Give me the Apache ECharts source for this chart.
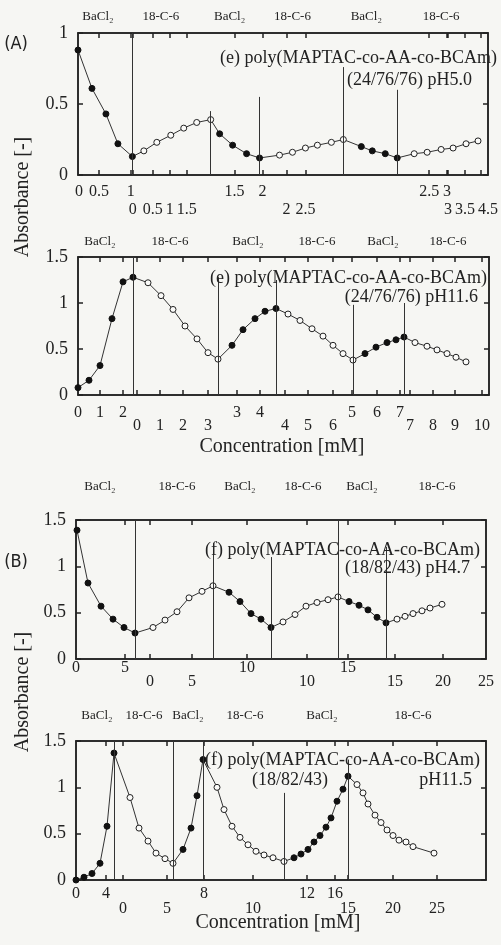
<!DOCTYPE html>
<html>
<head>
<meta charset="utf-8">
<script src="https://cdn.jsdelivr.net/npm/echarts@6/dist/echarts.min.js"></script>
<style>
html,body{margin:0;padding:0;background:#f6f6f3;}
#main_chart{width:501px;height:945px;}
</style>
</head>
<body>
<div id="main_chart"></div>
<script>
// x = position along the titration (cumulative addition, arbitrary unit), y = absorbance
// segments alternate: BaCl2 added (filled) / 18-C-6 added (open)

// (A) upper : (e) 24/76/76 pH5.0
var a1X = [0.0, 1.4, 2.8, 4.0, 5.45, 6.6, 7.9, 9.3, 10.6, 11.9, 13.3, 14.2, 15.5, 16.9, 18.2,
           20.2, 21.5, 22.8, 24.0, 25.4, 26.6, 28.4, 29.5, 30.8, 32.0, 33.7, 35.0, 36.4, 37.6, 38.9, 40.1];
var a1Y = [0.88, 0.61, 0.43, 0.22, 0.13, 0.17, 0.23, 0.28, 0.33, 0.37, 0.39, 0.29, 0.21, 0.15, 0.12,
           0.14, 0.16, 0.19, 0.21, 0.23, 0.25, 0.20, 0.17, 0.15, 0.12, 0.15, 0.16, 0.18, 0.19, 0.22, 0.24];
var a1Seg = [5, 6, 4, 6, 4, 6];
var a1Div = [5.45, 13.3, 18.2, 26.6, 32.0];
var a1DivTop = [1.0, 0.45, 0.55, 0.76, 0.6];
var a1TopPos = [2.0, 8.3, 15.2, 21.5, 28.9, 36.4];
var a1Row1Pos = [0.1, 2.1, 5.3, 15.7, 18.5, 35.2, 37.0];
var a1Row1Txt = ['0', '0.5', '1', '1.5', '2', '2.5', '3'];
var a1Row2Pos = [5.5, 7.5, 9.2, 10.9, 20.9, 22.8, 37.1, 38.8, 40.4, 41.1];
var a1Row2Txt = ['0', '0.5', '1', '1.5', '2', '2.5', '3', '3.5', '4', '4.5'];

// (A) lower : (e) 24/76/76 pH11.6
var a2X = [0.0, 1.1, 2.2, 3.4, 4.5, 5.5, 7.0, 8.3, 9.5, 10.7, 11.9, 13.0, 14.0,
           15.4, 16.5, 17.7, 18.7, 19.8, 21.0, 22.2, 23.4, 24.5, 25.5, 26.5, 27.5,
           28.7, 29.8, 30.9, 31.8, 32.6, 33.7, 34.9, 35.9, 36.9, 37.8, 38.8];
var a2Y = [0.08, 0.16, 0.32, 0.83, 1.23, 1.28, 1.22, 1.08, 0.93, 0.75, 0.61, 0.46, 0.39,
           0.54, 0.71, 0.83, 0.91, 0.94, 0.88, 0.81, 0.72, 0.64, 0.54, 0.45, 0.38,
           0.45, 0.52, 0.57, 0.60, 0.63, 0.57, 0.53, 0.49, 0.45, 0.41, 0.36];
var a2Seg = [6, 7, 5, 7, 5, 6];
var a2Div = [5.5, 14.0, 19.8, 27.5, 32.6];
var a2DivTop = [1.5, 1.28, 1.25, 0.98, 1.0];
var a2TopPos = [2.2, 9.2, 17.0, 23.9, 30.5, 37.0];
var a2Row1Pos = [0.0, 2.2, 4.5, 15.9, 18.2, 27.4, 29.9, 32.2];
var a2Row1Txt = ['0', '1', '2', '3', '4', '5', '6', '7'];
var a2Row2Pos = [5.9, 8.2, 10.5, 13.0, 20.7, 23.0, 25.5, 33.2, 35.5, 37.7, 40.4];
var a2Row2Txt = ['0', '1', '2', '3', '4', '5', '6', '7', '8', '9', '10'];

// (B) upper : (f) 18/82/43 pH4.7
var b1X = [0.1, 1.2, 2.5, 3.7, 4.8, 5.9, 7.7, 8.9, 10.1, 11.3, 12.6, 13.7,
           15.3, 16.4, 17.5, 18.5, 19.5, 20.7, 21.9, 23.0, 24.1, 25.2, 26.2,
           27.3, 28.3, 29.2, 30.1, 31.0, 32.1, 32.9, 33.7, 34.6, 35.4, 36.6];
var b1Y = [1.39, 0.82, 0.57, 0.43, 0.34, 0.28, 0.34, 0.42, 0.51, 0.66, 0.73, 0.79,
           0.72, 0.62, 0.49, 0.43, 0.34, 0.40, 0.48, 0.57, 0.61, 0.64, 0.67,
           0.62, 0.58, 0.53, 0.45, 0.39, 0.43, 0.46, 0.49, 0.52, 0.55, 0.59];
var b1Seg = [6, 6, 5, 6, 5, 6];
var b1Div = [5.9, 13.7, 19.5, 26.2, 31.0];
var b1DivTop = [1.5, 1.25, 1.1, 1.5, 1.21];
var b1TopPos = [2.4, 10.1, 16.4, 22.7, 28.6, 36.1];
var b1Row1Pos = [0.0, 4.9, 17.1, 27.2];
var b1Row1Txt = ['0', '5', '10', '15'];
var b1Row2Pos = [7.4, 11.6, 23.1, 31.9, 36.7, 41.0];
var b1Row2Txt = ['0', '5', '10', '15', '20', '25'];

// (B) lower : (f) 18/82/43 pH11.5
var b2X = [0.0, 0.8, 1.6, 2.4, 3.1, 3.8, 5.4, 6.3, 7.2, 8.0, 8.9, 9.7,
           10.7, 11.5, 12.1, 12.7, 14.1, 14.8, 15.6, 16.4, 17.2, 18.0, 18.8, 19.7, 20.8,
           21.8, 22.5, 23.2, 23.8, 24.4, 25.0, 25.5, 26.1, 26.7, 27.2,
           28.1, 28.7, 29.2, 29.9, 30.5, 31.1, 31.7, 32.3, 33.0, 33.7, 35.8];
var b2Y = [0.0, 0.03, 0.07, 0.18, 0.58, 1.37, 0.89, 0.56, 0.42, 0.29, 0.23, 0.18,
           0.33, 0.56, 0.91, 1.30, 1.0, 0.76, 0.58, 0.46, 0.38, 0.31, 0.27, 0.24, 0.2,
           0.24, 0.28, 0.33, 0.41, 0.48, 0.57, 0.67, 0.85, 0.98, 1.12,
           1.03, 0.94, 0.82, 0.70, 0.62, 0.54, 0.48, 0.43, 0.41, 0.36, 0.29];
var b2Seg = [6, 6, 4, 9, 10, 11];
var b2Div = [3.8, 9.7, 12.7, 20.8, 27.2];
var b2DivTop = [1.5, 1.5, 1.5, 0.94, 1.3];
var b2TopPos = [2.1, 6.8, 11.2, 16.9, 24.6, 33.7];
var b2Row1Pos = [0.0, 3.0, 12.8, 23.1, 25.9];
var b2Row1Txt = ['0', '4', '8', '12', '16'];
var b2Row2Pos = [4.7, 9.1, 17.7, 27.2, 31.7, 36.1];
var b2Row2Txt = ['0', '5', '10', '15', '20', '25'];

var reagentTxt = ['BaCl\u2082', '18-C-6', 'BaCl\u2082', '18-C-6', 'BaCl\u2082', '18-C-6'];

var panels = [
    {x: a1X, y: a1Y, seg: a1Seg, div: a1Div, divTop: a1DivTop, topPos: a1TopPos,
     r1: a1Row1Pos, r1t: a1Row1Txt, r2: a1Row2Pos, r2t: a1Row2Txt, xmax: 41.1, ymax: 1,
     grid: {left: 78, top: 33, width: 411, height: 142}, m1: 9, off2: 18, mTop: 10},
    {x: a2X, y: a2Y, seg: a2Seg, div: a2Div, divTop: a2DivTop, topPos: a2TopPos,
     r1: a2Row1Pos, r1t: a2Row1Txt, r2: a2Row2Pos, r2t: a2Row2Txt, xmax: 41.1, ymax: 1.5,
     grid: {left: 78, top: 257, width: 411, height: 138}, m1: 10, off2: 13, mTop: 9},
    {x: b1X, y: b1Y, seg: b1Seg, div: b1Div, divTop: b1DivTop, topPos: b1TopPos,
     r1: b1Row1Pos, r1t: b1Row1Txt, r2: b1Row2Pos, r2t: b1Row2Txt, xmax: 41.0, ymax: 1.5,
     grid: {left: 76, top: 520, width: 410, height: 139}, m1: 1, off2: 14, mTop: 27},
    {x: b2X, y: b2Y, seg: b2Seg, div: b2Div, divTop: b2DivTop, topPos: b2TopPos,
     r1: b2Row1Pos, r1t: b2Row1Txt, r2: b2Row2Pos, r2t: b2Row2Txt, xmax: 41.0, ymax: 1.5,
     grid: {left: 76, top: 741, width: 410, height: 139}, m1: 6, off2: 15, mTop: 19}
];

var SERIF = '"Liberation Serif", "DejaVu Serif", serif';
var INK = '#222';
var FRAME_W = 1.5;

//找最近的标签
function nearestTxt(pos, txt, v){
    var best = 0;
    for(var i=1;i<pos.length;i++){
        if(Math.abs(pos[i]-v) < Math.abs(pos[best]-v)) best = i;
    }
    return txt[best];
}

var option = {
    backgroundColor: '#f6f6f3',
    animation: false,
    grid: [], xAxis: [], yAxis: [], series: [], graphic: []
};

for(var k=0;k<panels.length;k++){
    var p = panels[k];
    // frame of each panel
    option.grid.push({left: p.grid.left, top: p.grid.top, width: p.grid.width, height: p.grid.height,
        show: true, borderColor: INK, borderWidth: FRAME_W, backgroundColor: 'transparent'});
    var ticks = p.r1.concat(p.r2).filter(function(v){ return v > 0.3 && v < 40.8; });

    // bottom, first row of concentrations
    option.xAxis.push({
        type: 'value', gridIndex: k, min: 0, max: p.xmax, position: 'bottom',
        axisLine: {show: true, onZero: false, lineStyle: {color: INK, width: FRAME_W}},
        axisTick: {show: true, inside: true, length: 5, customValues: ticks, lineStyle: {color: INK, width: FRAME_W}},
        axisLabel: {show: true, margin: p.m1, customValues: p.r1,
            fontFamily: SERIF, fontSize: 16, color: INK,
            formatter: (function(pos, txt){ return function(v){ return nearestTxt(pos, txt, v); }; })(p.r1, p.r1t)},
        splitLine: {show: false}
    });
    // bottom, second row of concentrations
    option.xAxis.push({
        type: 'value', gridIndex: k, min: 0, max: p.xmax, position: 'bottom', offset: p.off2,
        axisLine: {show: false, onZero: false}, axisTick: {show: false},
        axisLabel: {show: true, margin: p.m1, customValues: p.r2, showMaxLabel: true,
            fontFamily: SERIF, fontSize: 16, color: INK,
            formatter: (function(pos, txt){ return function(v){ return nearestTxt(pos, txt, v); }; })(p.r2, p.r2t)},
        splitLine: {show: false}
    });
    // top frame with reagent names
    option.xAxis.push({
        type: 'value', gridIndex: k, min: 0, max: p.xmax, position: 'top',
        axisLine: {show: true, onZero: false, lineStyle: {color: INK, width: FRAME_W}},
        axisTick: {show: true, inside: true, length: 5, customValues: ticks, lineStyle: {color: INK, width: FRAME_W}},
        axisLabel: {show: true, margin: p.mTop, customValues: p.topPos,
            fontFamily: SERIF, fontSize: 13, color: INK,
            formatter: (function(pos){ return function(v){ return nearestTxt(pos, reagentTxt, v); }; })(p.topPos)},
        splitLine: {show: false}
    });

    option.yAxis.push({
        type: 'value', gridIndex: k, min: 0, max: p.ymax, interval: 0.5, position: 'left',
        axisLine: {show: true, onZero: false, lineStyle: {color: INK, width: FRAME_W}},
        axisTick: {show: true, inside: true, length: 5, lineStyle: {color: INK, width: FRAME_W}},
        axisLabel: {margin: 10, fontFamily: SERIF, fontSize: 18, color: INK},
        splitLine: {show: false}
    });
    option.yAxis.push({
        type: 'value', gridIndex: k, min: 0, max: p.ymax, interval: 0.5, position: 'right',
        axisLine: {show: true, onZero: false, lineStyle: {color: INK, width: FRAME_W}},
        axisTick: {show: true, inside: true, length: 5, lineStyle: {color: INK, width: FRAME_W}},
        axisLabel: {show: false},
        splitLine: {show: false}
    });

    // points: filled for BaCl2 steps, open for 18-C-6 steps
    var data = [];
    var idx = 0;
    for(var s=0;s<p.seg.length;s++){
        for(var j=0;j<p.seg[s];j++){
            var filled = (s % 2 == 0);
            data.push({
                value: [p.x[idx], p.y[idx]],
                itemStyle: filled ? {color: '#111', borderColor: '#111', borderWidth: 1}
                                  : {color: '#fbfbf9', borderColor: '#222', borderWidth: 1}
            });
            idx++;
        }
    }
    var divLines = [];
    for(var d=0;d<p.div.length;d++){
        divLines.push([{coord: [p.div[d], 0]}, {coord: [p.div[d], p.divTop[d]]}]);
    }
    option.series.push({
        type: 'line', xAxisIndex: 3*k, yAxisIndex: 2*k, data: data,
        symbol: 'circle', symbolSize: 6, clip: false, z: 3,
        lineStyle: {color: '#333', width: 1},
        markLine: {silent: true, symbol: ['none', 'none'], label: {show: false},
            lineStyle: {color: '#333', width: 1, type: 'solid'}, data: divLines}
    });
}

// 注释文字
function addText(txt, x, y, align, size, font, rot){
    option.graphic.push({
        type: 'text', x: x, y: y, rotation: rot || 0, z: 10,
        style: {text: txt, fill: INK, font: size + 'px ' + (font || SERIF),
            textAlign: align, textVerticalAlign: 'middle'}
    });
}
addText('(e) poly(MAPTAC-co-AA-co-BCAm)', 497, 58, 'right', 18);
addText('(24/76/76) pH5.0', 472, 80, 'right', 18);
addText('(e) poly(MAPTAC-co-AA-co-BCAm)', 487, 278, 'right', 18);
addText('(24/76/76) pH11.6', 478, 297, 'right', 18);
addText('(f) poly(MAPTAC-co-AA-co-BCAm)', 480, 550, 'right', 18);
addText('(18/82/43) pH4.7', 470, 568, 'right', 18);
addText('(f) poly(MAPTAC-co-AA-co-BCAm)', 480, 760, 'right', 18);
addText('(18/82/43)', 290, 780, 'center', 18);
addText('pH11.5', 472, 780, 'right', 18);
addText('Concentration [mM]', 282, 447, 'center', 20);
addText('Concentration [mM]', 278, 923, 'center', 20);
addText('Absorbance [-]', 23, 197, 'center', 20, null, Math.PI / 2);
addText('Absorbance [-]', 23, 692, 'center', 20, null, Math.PI / 2);
addText('(A)', 16, 44, 'center', 18, '"Liberation Sans Narrow", "DejaVu Sans Condensed", sans-serif');
addText('(B)', 16, 562, 'center', 18, '"Liberation Sans Narrow", "DejaVu Sans Condensed", sans-serif');

var myChart = echarts.init(document.getElementById('main_chart'));
myChart.setOption(option);
</script>
</body>
</html>
